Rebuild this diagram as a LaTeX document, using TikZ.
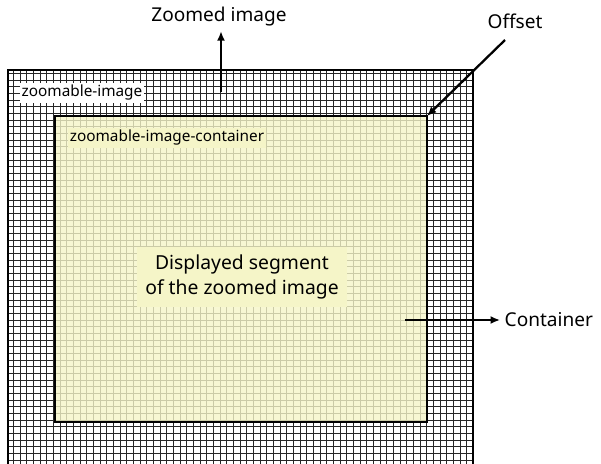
\documentclass[tikz,border=0pt]{standalone}
\usepackage{fontspec}
\setmainfont{Noto Sans}
\usetikzlibrary{arrows.meta}
\definecolor{segyellow}{RGB}{245,245,200}

\begin{document}
\begin{tikzpicture}[x=0.75pt,y=-0.75pt,
    frame/.style={line width=2.2pt},
    pointer/.style={-{Latex[length=7pt,width=6pt]},line width=1.7pt},
    tag/.style={inner sep=1.5pt,font=\fontsize{11.5}{13}\selectfont},
    caption/.style={font=\fontsize{14.3}{16}\selectfont}]
    \useasboundingbox (0,0) rectangle (601,464);
    % zoomed image with its grid
    \coordinate (outNW) at (8,70);
    \coordinate (outSE) at (473,470);
    \begin{scope}
      \clip (outNW) rectangle (outSE);
      \draw[line width=0.6pt,black!85,step=5pt] (outNW) grid (outSE);
    \end{scope}
    \draw[frame] (8,470) -- (outNW) -- (473,70) -- (outSE);
    % container on top
    \coordinate (inNW) at (55,116);
    \coordinate (inNE) at (427,116);
    \coordinate (inSE) at (427,422);
    \draw[frame,fill=segyellow,fill opacity=0.8] (inNW) rectangle (inSE);
    \node[tag,fill=white] (imgtag) at (82,93) {zoomable-image};
    \node[tag,fill=segyellow] (contag) at (167,138) {zoomable-image-container};
    \node[fill=segyellow,align=center,font=\fontsize{14.5}{19}\selectfont,
      minimum width=157pt,minimum height=45pt] (segtxt) at (242,277)
      {Displayed segment\\of the zoomed image};
    % callouts
    \node[caption] (zoomtxt) at (219,17) {Zoomed image};
    \node[caption] (offtxt) at (515,21) {Offset};
    \node[caption,anchor=west] (ctxt) at (500,320) {Container};
    \coordinate (zoomfoot) at (221,92);
    \coordinate (offtail) at (505,40);
    \coordinate (contail) at (405,320);
    \draw[pointer] (zoomfoot) -- (zoomfoot |- zoomtxt.south);
    \draw[pointer] (offtail) -- (inNE);
    \draw[pointer] (contail) -- (ctxt.west);
\end{tikzpicture}
\end{document}
